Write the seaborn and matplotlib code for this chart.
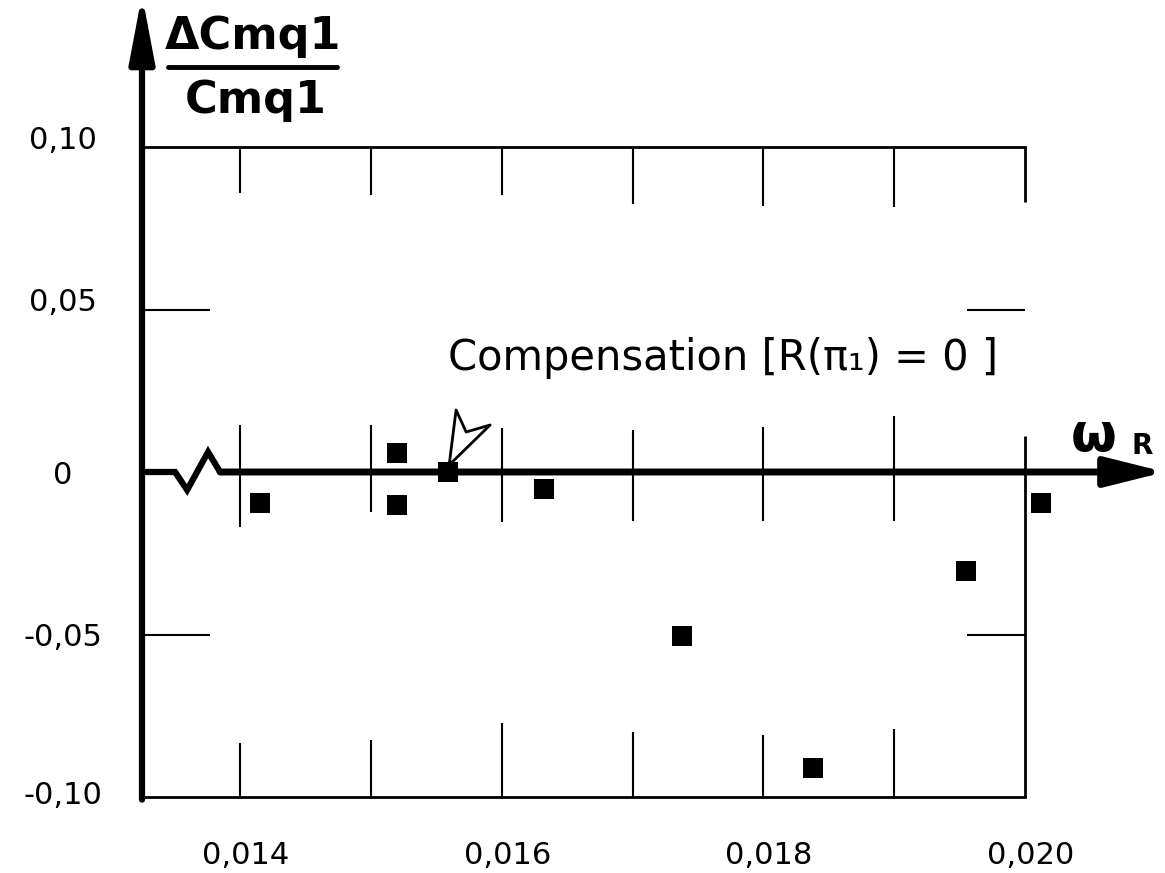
import matplotlib
matplotlib.use("Agg")
import matplotlib.pyplot as plt
import matplotlib.transforms as mtransforms
from matplotlib.lines import Line2D
import seaborn as sns
import pandas as pd

# ---------------- data ----------------
omega_r = [0.01415, 0.0152, 0.0152, 0.01559, 0.01632, 0.01738, 0.01838, 0.01955, 0.02012]
delta_cmq_ratio = [-0.0095, 0.0058, -0.0102, 0.0, -0.0052, -0.0505, -0.0911, -0.0305, -0.0095]

x_ticks = [0.014, 0.016, 0.018, 0.020]
x_tick_labels = ["0,014", "0,016", "0,018", "0,020"]
y_ticks = [0.10, 0.05, 0.0, -0.05, -0.10]
y_tick_labels = ["0,10", "0,05", "0", "-0,05", "-0,10"]

# hand-drawn partial grid segments
grid_x = [0.014, 0.015, 0.016, 0.017, 0.018, 0.019]
grid_top_end = [0.0858, 0.0852, 0.0852, 0.0825, 0.0818, 0.0815]
grid_mid_top = [0.0145, 0.0145, 0.0135, 0.0129, 0.0138, 0.0172]
grid_mid_bot = [-0.0169, -0.0123, -0.0154, -0.0150, -0.0150, -0.0150]
grid_bot_end = [-0.0834, -0.0825, -0.0772, -0.0800, -0.0809, -0.0791]
h_tick_levels = [0.05, -0.05]

# axis break zig-zag
break_x = [0.01325, 0.013503, 0.013595, 0.013755, 0.013847]
break_y = [0.0, 0.0, -0.00554, 0.00615, 0.0]

# annotation pointer outline
pointer_x = [0.015598, 0.015651, 0.015728, 0.015911, 0.015598]
pointer_y = [0.00215, 0.01908, 0.01231, 0.01446, 0.00215]

X_MIN, X_MAX = 0.01325, 0.0200
Y_MIN, Y_MAX = -0.10, 0.10

# ---------------- figure ----------------
sns.set_theme(style="white")
plt.rcParams["font.family"] = ["DejaVu Sans"]
plt.rcParams["text.color"] = "black"
plt.rcParams["xtick.color"] = "black"
plt.rcParams["ytick.color"] = "black"
plt.rcParams["axes.labelcolor"] = "black"

W, H = 1165, 873
fig = plt.figure(figsize=(W / 100, H / 100), dpi=100)
ax = fig.add_axes([142 / W, 76 / H, (1025 - 142) / W, (797 - 147) / H])
ax.set_xlim(X_MIN, X_MAX)
ax.set_ylim(Y_MIN, Y_MAX)


def px(x, y):
    return x / W, 1 - y / H


df = pd.DataFrame({"omega": omega_r, "ratio": delta_cmq_ratio})
sns.scatterplot(data=df, x="omega", y="ratio", marker="s", color="black",
                s=200, linewidth=0, ax=ax, zorder=5, clip_on=False)

# frame
for side in ["left", "right"]:
    ax.spines[side].set_visible(False)
for side in ["top", "bottom"]:
    ax.spines[side].set_linewidth(2.0)
    ax.spines[side].set_color("black")

# partial vertical grid segments
ax.vlines(grid_x, grid_top_end, [Y_MAX] * len(grid_x), color="black", lw=1.5)
ax.vlines(grid_x, grid_mid_bot, grid_mid_top, color="black", lw=1.5)
ax.vlines(grid_x, [Y_MIN] * len(grid_x), grid_bot_end, color="black", lw=1.5)
# right border (partial)
ax.vlines([X_MAX], [0.083], [Y_MAX], color="black", lw=2.0, clip_on=False)
ax.vlines([X_MAX], [Y_MIN], [0.011], color="black", lw=2.0, clip_on=False)
# short horizontal ticks
ax.hlines(h_tick_levels, X_MIN, 0.01377, color="black", lw=1.5)
ax.hlines(h_tick_levels, 0.01956, X_MAX, color="black", lw=1.5, clip_on=False)

# y axis (thick, with arrow)
ax.annotate("", xy=(X_MIN, 0.1468), xytext=(X_MIN, -0.1008),
            arrowprops=dict(arrowstyle="-|>,head_length=2.0,head_width=0.38",
                            lw=4.5, color="black", mutation_scale=20,
                            shrinkA=0, shrinkB=0),
            annotation_clip=False)
# x axis at zero with break and arrow
ax.plot(break_x, break_y, color="black", lw=4.5, clip_on=False,
        solid_joinstyle="miter", solid_capstyle="butt")
ax.annotate("", xy=(0.02107, 0.0), xytext=(break_x[-1], 0.0),
            arrowprops=dict(arrowstyle="-|>,head_length=1.8,head_width=0.45",
                            lw=5, color="black", mutation_scale=20,
                            shrinkA=0, shrinkB=0),
            annotation_clip=False)

# pointer
ax.plot(pointer_x, pointer_y, color="black", lw=2.0, clip_on=False)

# ticks
ax.set_xticks(x_ticks, x_tick_labels)
ax.set_yticks(y_ticks, y_tick_labels)
ax.tick_params(axis="x", length=0, pad=32, labelsize=22)
ax.tick_params(axis="y", length=0, pad=57, labelsize=22)
y_label_shift = [7, 7, 0, 0, 3]  # points, hand-lettered labels sit slightly high
for lab, dy in zip(ax.get_yticklabels(), y_label_shift):
    lab.set_horizontalalignment("center")
    lab.set_transform(lab.get_transform() +
                      mtransforms.ScaledTranslation(0, dy / 72, fig.dpi_scale_trans))
for lab in ax.get_xticklabels():
    lab.set_transform(lab.get_transform() +
                      mtransforms.ScaledTranslation(4 / 72, 0, fig.dpi_scale_trans))
ax.set_xlabel("")
ax.set_ylabel("")

# y label as fraction
fig.text(*px(253, 37), "ΔCmq1", ha="center", va="center",
         fontsize=32, fontweight="bold")
fig.add_artist(Line2D([168 / W, 337 / W], [1 - 67 / H, 1 - 67 / H],
                      color="black", lw=3.5))
fig.text(*px(256, 100), "Cmq1", ha="center", va="center",
         fontsize=32, fontweight="bold")

# x label
fig.text(*px(1094, 436), "ω", ha="center", va="center",
         fontsize=38, fontweight="bold")
fig.text(*px(1142, 446), "R", ha="center", va="center",
         fontsize=20, fontweight="bold")

# annotation text
fig.text(*px(448, 358), "Compensation [R(π₁) = 0 ]", ha="left", va="center",
         fontsize=30)

fig.savefig("out.png", dpi=100)
